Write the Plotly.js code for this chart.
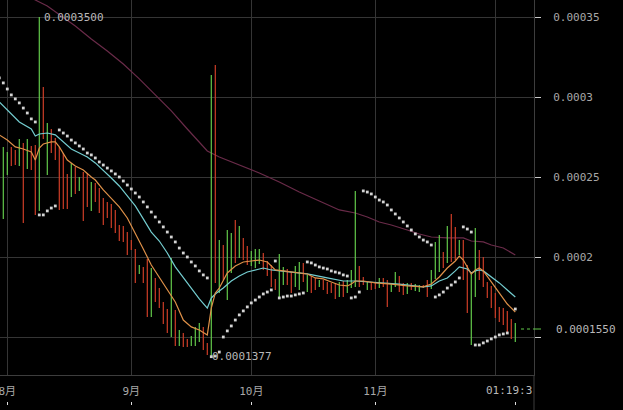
<!DOCTYPE html>
<html><head><meta charset="utf-8">
<script src="https://cdn.plot.ly/plotly-3.0.1.min.js"></script>
<style>html,body{margin:0;padding:0;background:#000;overflow:hidden}#chart{width:623px;height:410px}</style>
</head><body><div id="chart"></div>
<script>
// ---- data (daily bars, first bar on 2024-07-31) ----
const firstBarDate = '2024-07-31';
const barHigh = [
0.0002688,0.0002656,0.0002688,0.0002669,0.0002738,0.0002713,0.0002738,0.0002694,0.0002700,0.0003500,
0.0003063,0.0002838,0.0002800,0.0002744,0.0002688,0.0002650,0.0002519,0.0002588,0.0002563,0.0002500,
0.0002531,0.0002525,0.0002469,0.0002463,0.0002431,0.0002369,0.0002344,0.0002331,0.0002294,0.0002200,
0.0002194,0.0002156,0.0002106,0.0002050,0.0001950,0.0001938,0.0001988,0.0001931,0.0001869,0.0001806,
0.0001719,0.0001675,0.0001994,0.0001669,0.0001544,0.0001525,0.0001488,0.0001506,0.0001563,0.0001588,
0.0001563,0.0001463,0.0003138,0.0003200,0.0002106,0.0002075,0.0002169,0.0002150,0.0002231,0.0002194,
0.0002119,0.0002069,0.0002038,0.0002050,0.0002050,0.0002025,0.0001975,0.0001950,0.0001863,0.0002019,
0.0001938,0.0001925,0.0001906,0.0001944,0.0001969,0.0001963,0.0001888,0.0001881,0.0001869,0.0001856,
0.0001856,0.0001844,0.0001838,0.0001838,0.0001844,0.0001850,0.0001856,0.0001919,0.0002413,0.0001944,
0.0001875,0.0001844,0.0001844,0.0001838,0.0001869,0.0001869,0.0001856,0.0001838,0.0001906,0.0001881,
0.0001838,0.0001838,0.0001838,0.0001831,0.0001825,0.0001825,0.0001856,0.0001919,0.0002094,0.0002138,
0.0002031,0.0002194,0.0002269,0.0002188,0.0002106,0.0002106,0.0001950,0.0001900,0.0002181,0.0002044,
0.0002000,0.0001844,0.0001819,0.0001775,0.0001688,0.0001681,0.0001663,0.0001613,0.0001588];
const barLow = [
0.0002238,0.0002513,0.0002569,0.0002575,0.0002569,0.0002213,0.0002550,0.0002544,0.0002263,0.0002288,
0.0002738,0.0002513,0.0002650,0.0002606,0.0002294,0.0002300,0.0002300,0.0002375,0.0002394,0.0002413,
0.0002225,0.0002313,0.0002288,0.0002344,0.0002275,0.0002200,0.0002244,0.0002181,0.0002150,0.0002100,
0.0002094,0.0002013,0.0002044,0.0001838,0.0001894,0.0001838,0.0001625,0.0001625,0.0001719,0.0001681,
0.0001581,0.0001525,0.0001500,0.0001444,0.0001444,0.0001438,0.0001438,0.0001444,0.0001444,0.0001469,
0.0001419,0.0001388,0.0001377,0.0001838,0.0001775,0.0001856,0.0001731,0.0001900,0.0001963,0.0001994,
0.0001981,0.0001950,0.0001944,0.0001931,0.0001956,0.0001919,0.0001881,0.0001813,0.0001794,0.0001750,
0.0001825,0.0001825,0.0001775,0.0001813,0.0001794,0.0001844,0.0001781,0.0001775,0.0001794,0.0001813,
0.0001794,0.0001769,0.0001775,0.0001738,0.0001750,0.0001750,0.0001775,0.0001806,0.0001813,0.0001813,
0.0001825,0.0001794,0.0001794,0.0001800,0.0001806,0.0001813,0.0001688,0.0001781,0.0001813,0.0001781,
0.0001763,0.0001769,0.0001794,0.0001788,0.0001781,0.0001806,0.0001750,0.0001800,0.0001863,0.0001906,
0.0001931,0.0001963,0.0001969,0.0001981,0.0002013,0.0001856,0.0001650,0.0001450,0.0001750,0.0001856,
0.0001813,0.0001744,0.0001681,0.0001619,0.0001594,0.0001575,0.0001531,0.0001488,0.0001469];
// 1 = rising bar (green), 0 = falling bar (red)
const barUp = [
1,1,0,0,1,0,1,0,0,1, 0,1,0,0,0,0,0,1,0,1, 0,0,1,0,0,0,0,0,0,0, 0,0,0,0,1,0,0,1,0,0,
0,0,1,0,1,0,0,1,1,1, 0,0,1,0,1,0,1,1,0,1, 0,0,1,1,1,0,0,0,0,1, 1,0,0,1,1,0,1,0,0,1,
0,0,0,0,1,0,1,1,1,0, 0,1,0,0,1,0,0,1,1,0, 0,1,0,1,1,0,0,1,1,1, 0,1,0,0,1,0,0,1,1,0,
0,0,0,0,0,0,0,0,1];
// parabolic SAR, one dot per day from 2024-07-30
const sarFirstDate = '2024-07-30';
const sar = [
0.0003119,0.0003088,0.0003050,0.0003013,0.0002988,0.0002963,0.0002931,0.0002900,0.0002863,0.0002844,
0.0002263,0.0002263,0.0002288,0.0002306,0.0002319,0.0002794,0.0002775,0.0002756,0.0002731,0.0002713,
0.0002694,0.0002675,0.0002650,0.0002638,0.0002619,0.0002594,0.0002575,0.0002556,0.0002538,0.0002519,
0.0002500,0.0002475,0.0002450,0.0002425,0.0002400,0.0002375,0.0002344,0.0002313,0.0002281,0.0002250,
0.0002219,0.0002188,0.0002156,0.0002125,0.0002094,0.0002056,0.0002025,0.0002000,0.0001969,0.0001944,
0.0001913,0.0001888,0.0001869,0.0001377,0.0001381,0.0001406,0.0001500,0.0001538,0.0001569,0.0001606,
0.0001638,0.0001663,0.0001688,0.0001713,0.0001731,0.0001750,0.0001769,0.0001781,0.0001794,0.0001975,
0.0001744,0.0001750,0.0001756,0.0001756,0.0001763,0.0001769,0.0001775,0.0001969,0.0001963,0.0001950,
0.0001938,0.0001931,0.0001925,0.0001913,0.0001906,0.0001900,0.0001888,0.0001881,0.0001744,0.0001750,
0.0001781,0.0002413,0.0002406,0.0002394,0.0002375,0.0002356,0.0002344,0.0002325,0.0002294,0.0002269,
0.0002244,0.0002219,0.0002194,0.0002169,0.0002144,0.0002125,0.0002106,0.0002094,0.0002075,0.0001750,
0.0001763,0.0001781,0.0001806,0.0001825,0.0001844,0.0001869,0.0002188,0.0002175,0.0002156,0.0001450,
0.0001450,0.0001463,0.0001475,0.0001488,0.0001500,0.0001513,0.0001519,0.0001525,null,0.0001675];
// moving averages, sampled by day offset from 2024-08-01
const maBaseDate = '2024-08-01';
const maFastDays = [-2,0,2,4,6,7,8,9,11,12,13,14,15,17,19,21,22,24,26,28,30,32,34,36,38,40,42,44,46,48,50,51,52,53,55,57,59,61,63,65,67,69,71,73,75,77,79,81,83,85,86,87,89,92,96,100,104,106,108,110,112,113,114,116,117,118,119,121,123,125,127];
const maFast = [0.0002763,0.0002731,0.0002688,0.0002675,0.0002656,0.0002606,0.0002681,0.0002706,0.0002719,0.0002719,
0.0002688,0.0002650,0.0002606,0.0002569,0.0002544,0.0002500,0.0002481,0.0002419,0.0002363,0.0002313,
0.0002244,0.0002150,0.0002050,0.0001950,0.0001875,0.0001794,0.0001719,0.0001606,0.0001563,0.0001544,
0.0001513,0.0001681,0.0001775,0.0001806,0.0001900,0.0001944,0.0001969,0.0001975,0.0001981,0.0001969,
0.0001919,0.0001913,0.0001906,0.0001900,0.0001894,0.0001869,0.0001863,0.0001844,0.0001825,0.0001819,
0.0001831,0.0001850,0.0001850,0.0001838,0.0001831,0.0001819,0.0001813,0.0001831,0.0001875,0.0001931,
0.0001975,0.0002006,0.0001981,0.0001894,0.0001919,0.0001931,0.0001913,0.0001844,0.0001775,0.0001706,0.0001656];
const maMidDays = [-2,0,3,6,7,8,10,12,14,16,18,20,22,24,26,28,30,32,34,36,38,40,42,44,46,48,50,51,52,54,56,58,60,62,64,66,68,71,75,80,84,87,91,98,104,106,108,110,112,113,115,116,117,118,119,121,123,125,127];
const maMid = [0.0002969,0.0002919,0.0002844,0.0002800,0.0002756,0.0002769,0.0002775,0.0002763,0.0002719,0.0002675,
0.0002650,0.0002625,0.0002588,0.0002544,0.0002494,0.0002444,0.0002381,0.0002319,0.0002238,0.0002156,
0.0002100,0.0002025,0.0001938,0.0001869,0.0001800,0.0001738,0.0001681,0.0001744,0.0001769,0.0001806,
0.0001850,0.0001881,0.0001906,0.0001919,0.0001931,0.0001919,0.0001913,0.0001906,0.0001894,0.0001869,
0.0001850,0.0001850,0.0001844,0.0001831,0.0001813,0.0001819,0.0001850,0.0001869,0.0001913,0.0001938,
0.0001925,0.0001900,0.0001913,0.0001919,0.0001913,0.0001875,0.0001838,0.0001794,0.0001750];
const maSlowDays = [-2,4,7,10,13,17,21,25,29,33,37,41,45,48,50,53,58,63,68,73,78,83,87,90,93,96,100,103,106,110,114,116,119,121,124,127];
const maSlow = [0.0003738,0.0003650,0.0003606,0.0003569,0.0003513,0.0003444,0.0003363,0.0003288,0.0003206,0.0003113,
0.0003013,0.0002913,0.0002800,0.0002719,0.0002663,0.0002625,0.0002575,0.0002525,0.0002469,0.0002406,
0.0002350,0.0002294,0.0002275,0.0002250,0.0002219,0.0002200,0.0002169,0.0002144,0.0002125,0.0002119,
0.0002119,0.0002100,0.0002094,0.0002075,0.0002056,0.0002013];
// axis labels
const monthTicks = ['2024-08-01','2024-09-01','2024-10-01','2024-11-01','2024-12-01'];
const monthLabels = ['8月','9月','10月','11月',''];
const priceTicks = [0.00015,0.0002,0.00025,0.0003,0.00035];
const priceLabels = ['','0.0002','0.00025','0.0003','0.00035'];
const lastPrice = 0.000155;
const lastPriceText = '0.0001550';
const highMark = {date:'2024-08-09', value:0.00035, text:'0.0003500'};
const lowMark = {date:'2024-09-21', value:0.0001377, text:'0.0001377'};
const countdownText = '01:19:3';

// ---- build ----
const DAY = 86400000;
const tBar0 = Date.parse(firstBarDate);
const tSar0 = Date.parse(sarFirstDate);
const tMa0 = Date.parse(maBaseDate);
const W = 623, H = 410, PR = 534, PB = 375;

function bars(flag){
  const x=[], y=[];
  barHigh.forEach((h,i)=>{ if(barUp[i]===flag){ const t=tBar0+i*DAY; x.push(t,t,null); y.push(barLow[i],h,null);} });
  return {x,y};
}
const up = bars(1), dn = bars(0);
const lastBarT = tBar0 + (barHigh.length-1)*DAY;
const xr = [tMa0 - 1.825*DAY, tMa0 + 131.675*DAY];

const traces = [
  {x: maSlowDays.map(d=>tMa0+d*DAY), y: maSlow, mode:'lines', line:{color:'#6a2b49', width:1.2}, hoverinfo:'skip'},
  {x: dn.x, y: dn.y, mode:'lines', line:{color:'#cf3e27', width:1.2}, hoverinfo:'skip', connectgaps:false},
  {x: up.x, y: up.y, mode:'lines', line:{color:'#62c94a', width:1.2}, hoverinfo:'skip', connectgaps:false},
  {x: maMidDays.map(d=>tMa0+d*DAY), y: maMid, mode:'lines', line:{color:'#74cdd0', width:1.2}, hoverinfo:'skip'},
  {x: maFastDays.map(d=>tMa0+d*DAY), y: maFast, mode:'lines', line:{color:'#de9048', width:1.2}, hoverinfo:'skip'},
  {x: sar.map((v,i)=>tSar0+i*DAY), y: sar, mode:'markers', marker:{symbol:'square', size:2.8, color:'#d4d4d4', line:{width:0}}, hoverinfo:'skip'},
  {x: [xr[0]], y: [null], xaxis:'x2', mode:'markers', hoverinfo:'skip'}
];

const mono = 'DejaVu Sans Mono, monospace';
const layout = {
  width: W, height: H, paper_bgcolor:'#000', plot_bgcolor:'#000',
  margin:{l:0,r:0,t:0,b:0,pad:0}, showlegend:false,
  font:{family:mono, color:'#a8a8a8', size:11},
  xaxis:{type:'date', domain:[0, PR/W], range:xr, tickmode:'array',
    tickvals: monthTicks.map(s=>Date.parse(s)), ticktext: monthLabels,
    showgrid:true, gridcolor:'#353535', gridwidth:1, zeroline:false,
    showline:true, linecolor:'#3d3d3d', linewidth:1, ticks:'', ticklabelstandoff:6,
    ticklabeloverflow:'allow',
    tickfont:{family:'DejaVu Sans Mono, Noto Sans CJK SC, monospace', size:11, color:'#a8a8a8'}, fixedrange:true},
  xaxis2:{type:'date', overlaying:'x', anchor:'free', position:5/H, domain:[0, PR/W], range:xr,
    tickmode:'array', tickvals: monthTicks.slice(0,4).map(s=>Date.parse(s)).concat([lastBarT]),
    ticks:'inside', ticklen:3, tickcolor:'#dddddd', tickwidth:1, showticklabels:false,
    showgrid:false, zeroline:false, showline:false},
  yaxis:{domain:[(H-PB)/H, 1], side:'right', range:[0.00012625, 0.000360625],
    tickmode:'array', tickvals: priceTicks, ticktext: priceLabels,
    showgrid:true, gridcolor:'#353535', gridwidth:1, zeroline:false,
    showline:true, linecolor:'#3d3d3d', linewidth:1,
    ticks:'outside', ticklen:6, tickcolor:'#cccccc', tickwidth:1, ticklabelstandoff:10,
    tickfont:{family:mono, size:11, color:'#a8a8a8'}, fixedrange:true},
  shapes:[
    {type:'line', xref:'paper', yref:'paper', x0:PR/W, x1:PR/W, y0:0, y1:(H-PB)/H, line:{color:'#3d3d3d', width:1}},
    {type:'line', xref:'paper', yref:'y', x0:521/W, x1:533/W, y0:lastPrice, y1:lastPrice, line:{color:'#62c94a', width:1, dash:'dot'}},
    {type:'line', xref:'paper', yref:'y', x0:533/W, x1:541/W, y0:lastPrice, y1:lastPrice, line:{color:'#62c94a', width:1}}
  ],
  annotations:[
    {x: Date.parse(highMark.date), y: highMark.value, text: highMark.text, showarrow:false, xanchor:'left', yanchor:'middle', xshift:3, font:{family:mono, size:11, color:'#b8b8b8'}},
    {x: Date.parse(lowMark.date), y: lowMark.value, text: lowMark.text, showarrow:false, xanchor:'left', yanchor:'middle', xshift:-1, font:{family:mono, size:11, color:'#b8b8b8'}},
    {xref:'paper', x:554/W, y:lastPrice, text:lastPriceText, showarrow:false, xanchor:'left', yanchor:'middle', font:{family:mono, size:11, color:'#b8b8b8'}},
    {xref:'paper', yref:'paper', x:PR/W, y:(H-390)/H, text:countdownText, showarrow:false, xanchor:'right', yanchor:'middle', font:{family:mono, size:11, color:'#b8b8b8'}}
  ]
};
Plotly.newPlot('chart', traces, layout, {staticPlot:true, displayModeBar:false});
</script></body></html>
